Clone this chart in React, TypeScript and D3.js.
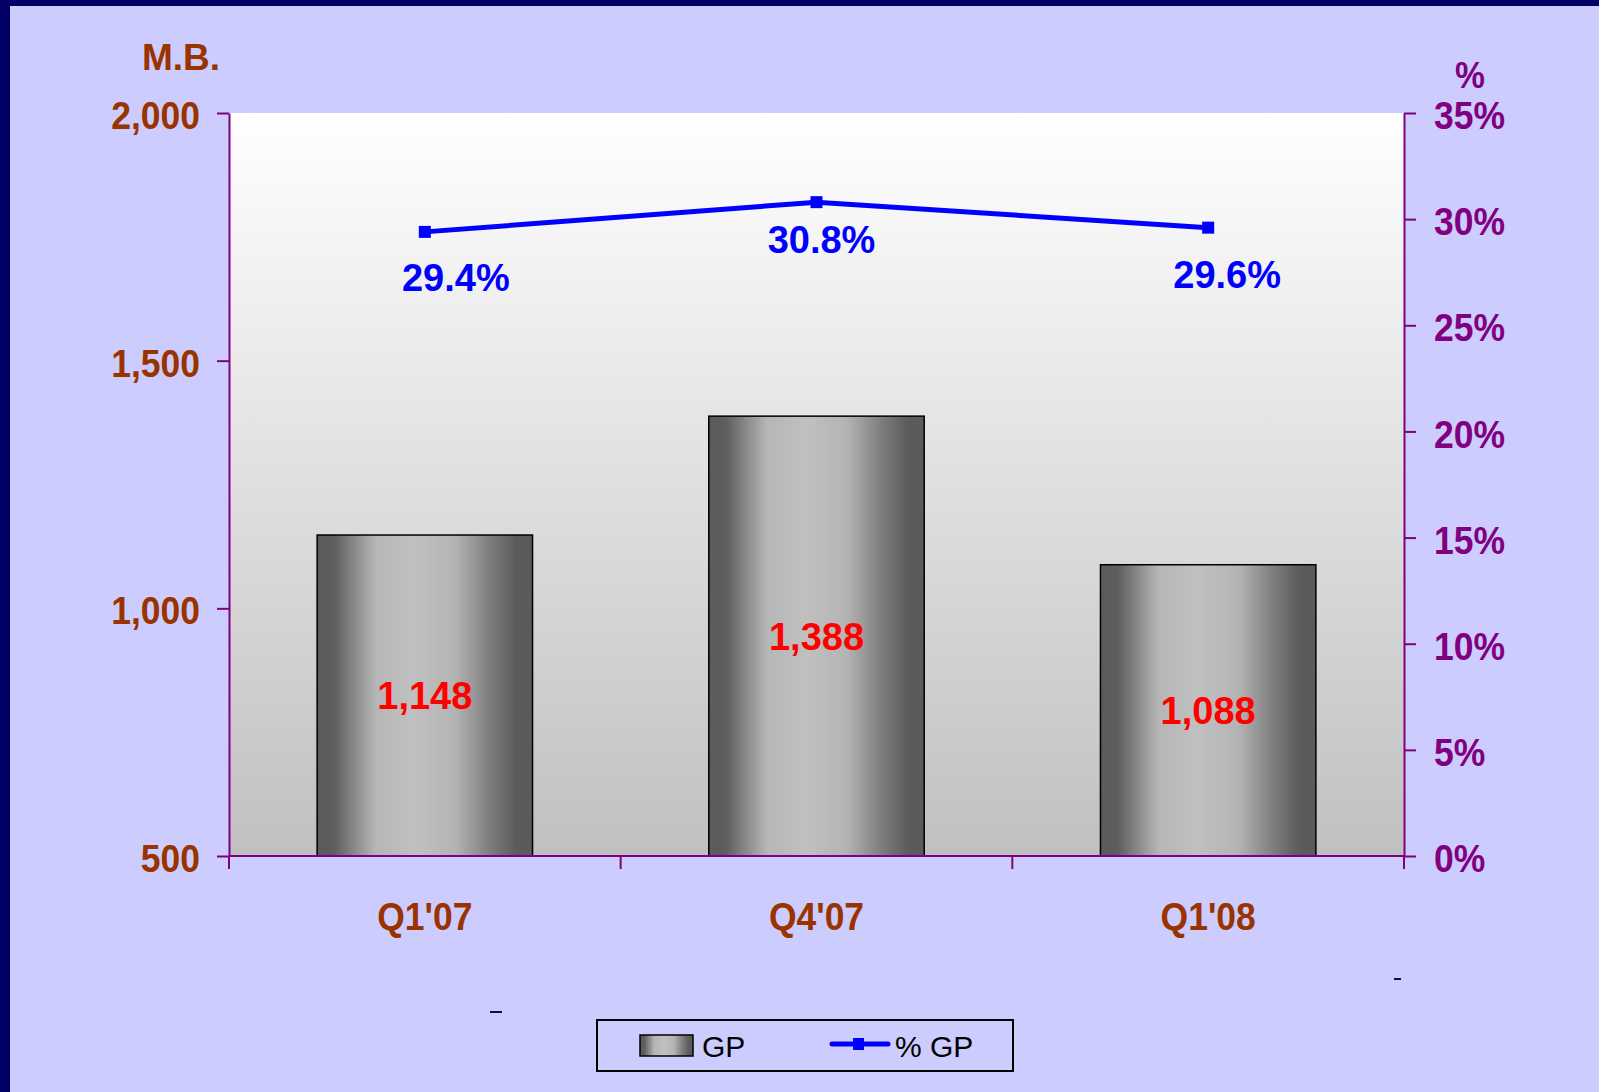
import React, { useRef, useEffect } from 'react';
import * as d3 from 'd3';

const QUARTERS = ["Q1'07", "Q4'07", "Q1'08"];
const GP = [1148, 1388, 1088];
const GP_PCT = [29.4, 30.8, 29.6];
const LEFT_TICKS = [500, 1000, 1500, 2000];
const RIGHT_TICKS = [0, 5, 10, 15, 20, 25, 30, 35];

// hand-placed % label offsets (like moved labels in the source deck)
const PCT_LABEL_DX = [31, 5, 19];
const PCT_LABEL_DY = [59, 51, 60];

const W = 1599;
const H = 1092;
const FONT = '"Liberation Sans", Arial, sans-serif';
const BROWN = '#993300';
const PURPLE = '#800080';
const FS = 39;     // axis label size
const SX = 0.91;   // axis text is slightly condensed in the source

// move x/y into a transform so the glyphs can be narrowed around their anchor
function squeeze(sel: any) {
  sel.each(function (this: SVGTextElement) {
    const t = d3.select(this);
    const tx = +(t.attr('x') || 0);
    const ty = +(t.attr('y') || 0);
    const prev = t.attr('transform') || '';
    t.attr('x', 0).attr('y', 0)
      .attr('transform', `${prev} translate(${tx},${ty}) scale(${SX},1)`);
  });
}

export default function App() {
  const ref = useRef<SVGSVGElement>(null);

  useEffect(() => {
    if (!ref.current) return;
    const svg = d3.select(ref.current);
    svg.selectAll('*').remove();

    const plot = { left: 229, right: 1404, top: 113, bottom: 856 };

    // ── Scales ───────────────────────────────────────────
    const x = d3.scaleBand<string>()
      .domain(QUARTERS)
      .range([plot.left, plot.right])
      .paddingInner(0.45)
      .paddingOuter(0.225);
    const y = d3.scaleLinear().domain([500, 2000]).range([plot.bottom, plot.top]);
    const yPct = d3.scaleLinear().domain([0, 35]).range([plot.bottom, plot.top]);

    // ── Gradients ────────────────────────────────────────
    const defs = svg.append('defs');
    const bg = defs.append('linearGradient')
      .attr('id', 'plotBg').attr('x1', 0).attr('x2', 0).attr('y1', 0).attr('y2', 1);
    bg.append('stop').attr('offset', '0%').attr('stop-color', '#ffffff');
    bg.append('stop').attr('offset', '100%').attr('stop-color', '#c0c0c0');

    const barGrad = defs.append('linearGradient')
      .attr('id', 'barGrad').attr('x1', 0).attr('x2', 1).attr('y1', 0).attr('y2', 0);
    [
      ['0%', '#5a5a5a'], ['8%', '#5e5e5e'], ['27%', '#b6b6b6'], ['45%', '#c0c0c0'],
      ['64%', '#b4b4b4'], ['80%', '#7e7e7e'], ['92%', '#5c5c5c'], ['100%', '#5a5a5a'],
    ].forEach(([o, c]) => barGrad.append('stop').attr('offset', o).attr('stop-color', c));

    // ── Page background + frame ──────────────────────────
    svg.append('rect').attr('width', W).attr('height', H).attr('fill', '#ccccff');
    svg.append('rect').attr('x', 0).attr('y', 0).attr('width', 10).attr('height', H).attr('fill', '#000066');
    svg.append('rect').attr('x', 0).attr('y', 0).attr('width', W).attr('height', 6).attr('fill', '#000066');

    // plot area
    svg.append('rect')
      .attr('x', plot.left).attr('y', plot.top)
      .attr('width', plot.right - plot.left).attr('height', plot.bottom - plot.top)
      .attr('fill', 'url(#plotBg)');

    // ── Bars ─────────────────────────────────────────────
    svg.append('g').selectAll('rect')
      .data(GP)
      .join('rect')
      .attr('x', (_, i) => x(QUARTERS[i])!)
      .attr('y', d => y(d))
      .attr('width', x.bandwidth())
      .attr('height', d => y(500) - y(d))
      .attr('fill', 'url(#barGrad)')
      .attr('stroke', '#000')
      .attr('stroke-width', 1.5);

    svg.append('g').selectAll('text')
      .data(GP)
      .join('text')
      .attr('x', (_, i) => x(QUARTERS[i])! + x.bandwidth() / 2)
      .attr('y', d => (y(d) + y(500)) / 2)
      .attr('dy', '0.36em')
      .attr('text-anchor', 'middle')
      .attr('font-family', FONT)
      .attr('font-weight', 'bold')
      .attr('font-size', 38)
      .attr('fill', '#ff0000')
      .text(d => d3.format(',')(d));

    // ── Axes ─────────────────────────────────────────────
    const styleAxis = (ax: any, color: string) => {
      ax.select('.domain').attr('stroke', PURPLE).attr('stroke-width', 2);
      ax.selectAll('.tick line').attr('stroke', PURPLE).attr('stroke-width', 2);
      ax.selectAll('.tick text')
        .attr('fill', color)
        .attr('font-family', FONT)
        .attr('font-weight', 'bold')
        .attr('font-size', FS)
        .attr('dy', '0.4em')
        .call(squeeze);
    };

    svg.append('g')
      .attr('transform', `translate(${plot.left},0)`)
      .call(d3.axisLeft(y).tickValues(LEFT_TICKS).tickFormat(d3.format(',') as any).tickSize(12).tickSizeOuter(0).tickPadding(17))
      .call((ax: any) => styleAxis(ax, BROWN));

    svg.append('g')
      .attr('transform', `translate(${plot.right},0)`)
      .call(d3.axisRight(yPct).tickValues(RIGHT_TICKS).tickFormat(d => `${d}%`).tickSize(12).tickSizeOuter(0).tickPadding(18))
      .call((ax: any) => styleAxis(ax, PURPLE));

    // x axis: ticks at category boundaries, labels centred
    const step = x.step();
    const bounds = d3.range(QUARTERS.length + 1).map(i => plot.left + i * step);
    const xAxis = svg.append('g');
    xAxis.append('line')
      .attr('x1', plot.left).attr('x2', plot.right)
      .attr('y1', plot.bottom).attr('y2', plot.bottom)
      .attr('stroke', PURPLE).attr('stroke-width', 2);
    xAxis.selectAll('line.tk')
      .data(bounds)
      .join('line')
      .attr('class', 'tk')
      .attr('x1', d => d).attr('x2', d => d)
      .attr('y1', plot.bottom).attr('y2', plot.bottom + 13)
      .attr('stroke', PURPLE).attr('stroke-width', 2);
    xAxis.selectAll('text')
      .data(QUARTERS)
      .join('text')
      .attr('x', d => x(d)! + x.bandwidth() / 2)
      .attr('y', plot.bottom + 74)
      .attr('text-anchor', 'middle')
      .attr('font-family', FONT)
      .attr('font-weight', 'bold')
      .attr('font-size', FS)
      .attr('fill', BROWN)
      .text(d => d)
      .call(squeeze);

    // axis titles
    svg.append('text')
      .attr('x', 220).attr('y', 70)
      .attr('text-anchor', 'end')
      .attr('font-family', FONT).attr('font-weight', 'bold').attr('font-size', 37)
      .attr('fill', BROWN)
      .text('M.B.');
    svg.append('text')
      .attr('x', 1470).attr('y', 88)
      .attr('text-anchor', 'middle')
      .attr('font-family', FONT).attr('font-weight', 'bold').attr('font-size', 37)
      .attr('fill', PURPLE)
      .text('%')
      .call(squeeze);

    // ── % GP line ────────────────────────────────────────
    const cx = (i: number) => x(QUARTERS[i])! + x.bandwidth() / 2;
    const line = d3.line<number>()
      .x((_, i) => cx(i))
      .y(d => yPct(d));

    svg.append('path')
      .datum(GP_PCT)
      .attr('d', line)
      .attr('fill', 'none')
      .attr('stroke', '#0000ff')
      .attr('stroke-width', 5);

    svg.append('g').selectAll('rect')
      .data(GP_PCT)
      .join('rect')
      .attr('x', (_, i) => cx(i) - 6)
      .attr('y', d => yPct(d) - 6)
      .attr('width', 12).attr('height', 12)
      .attr('fill', '#0000ff');

    svg.append('g').selectAll('text')
      .data(GP_PCT)
      .join('text')
      .attr('x', (_, i) => cx(i) + PCT_LABEL_DX[i])
      .attr('y', (d, i) => yPct(d) + PCT_LABEL_DY[i])
      .attr('text-anchor', 'middle')
      .attr('font-family', FONT)
      .attr('font-weight', 'bold')
      .attr('font-size', 38)
      .attr('fill', '#0000ff')
      .text(d => `${d.toFixed(1)}%`);

    // stray dashes from the source slide
    svg.append('line').attr('x1', 490).attr('x2', 502).attr('y1', 1012).attr('y2', 1012)
      .attr('stroke', '#111133').attr('stroke-width', 2);
    svg.append('line').attr('x1', 1394).attr('x2', 1401).attr('y1', 979).attr('y2', 979)
      .attr('stroke', '#111133').attr('stroke-width', 2);

    // ── Legend ───────────────────────────────────────────
    const lg = svg.append('g');
    lg.append('rect')
      .attr('x', 597).attr('y', 1020).attr('width', 416).attr('height', 51)
      .attr('fill', '#ccccff').attr('stroke', '#000').attr('stroke-width', 2);
    lg.append('rect')
      .attr('x', 640).attr('y', 1035).attr('width', 53).attr('height', 21)
      .attr('fill', 'url(#barGrad)').attr('stroke', '#000').attr('stroke-width', 1.5);
    lg.append('text')
      .attr('x', 702).attr('y', 1057)
      .attr('font-family', FONT).attr('font-size', 30).attr('fill', '#000')
      .text('GP');
    lg.append('line')
      .attr('x1', 832).attr('x2', 888).attr('y1', 1044).attr('y2', 1044)
      .attr('stroke', '#0000ff').attr('stroke-width', 5).attr('stroke-linecap', 'round');
    lg.append('rect')
      .attr('x', 853).attr('y', 1038).attr('width', 11).attr('height', 12)
      .attr('fill', '#0000ff');
    lg.append('text')
      .attr('x', 895).attr('y', 1057)
      .attr('font-family', FONT).attr('font-size', 30).attr('fill', '#000')
      .text('% GP');
  }, []);

  return (
    <svg
      ref={ref}
      width={W}
      height={H}
      style={{ position: 'absolute', left: 0, top: 0, display: 'block' }}
    />
  );
}
